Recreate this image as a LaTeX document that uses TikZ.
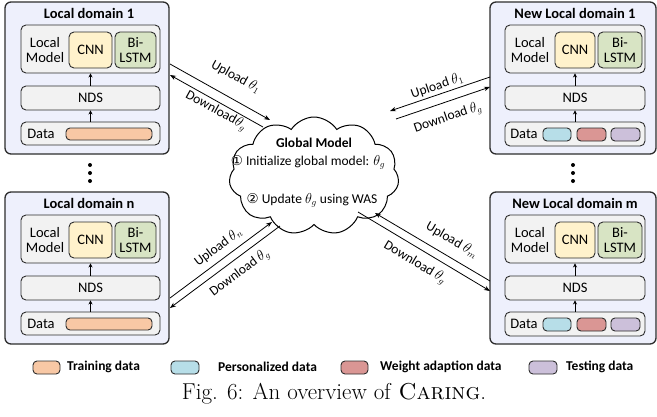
\documentclass[tikz,border=0pt]{standalone}
\usepackage{fontspec}
\newfontfamily\cb{Carlito}
\newfontfamily\dv{DejaVu Sans}
\usetikzlibrary{shapes.symbols,arrows.meta,calc}
\definecolor{domfill}{RGB}{238,240,252}
\definecolor{boxgray}{RGB}{242,242,242}
\definecolor{cnnfill}{RGB}{255,242,204}
\definecolor{lstmfill}{RGB}{216,228,196}
\definecolor{trainfill}{RGB}{248,200,165}
\definecolor{persfill}{RGB}{183,222,232}
\definecolor{weightfill}{RGB}{218,150,148}
\definecolor{testfill}{RGB}{204,192,218}
\definecolor{edge}{RGB}{45,45,45}
\tikzset{
  dom/.style={draw=edge, line width=1.3pt, rounded corners=6pt, fill=domfill, inner sep=0pt},
  inbox/.style={draw=edge, line width=0.9pt, rounded corners=5pt, fill=boxgray, inner sep=0pt,
                font=\cb\fontsize{14.5}{15.5}\selectfont, align=center},
  sw/.style={draw=edge, line width=0.9pt, rounded corners=4pt, inner sep=0pt},
  ttl/.style={font=\cb\bfseries\fontsize{14.5}{16}\selectfont, inner sep=0pt},
  txt/.style={font=\cb\fontsize{14.5}{15.5}\selectfont, align=center, inner sep=0pt},
  lbl/.style={font=\cb\fontsize{13.5}{15}\selectfont, inner sep=0pt},
  leg/.style={font=\cb\bfseries\fontsize{13.5}{15}\selectfont, anchor=west, inner sep=0pt},
  arr/.style={line width=0.8pt, -{Stealth[length=6pt,width=4.5pt]}},
  iarr/.style={line width=0.9pt, -{Stealth[length=4pt,width=4pt]}},
  dotc/.style={fill=black, circle, inner sep=0pt, minimum size=4pt}
}
\begin{document}
\begin{tikzpicture}[x=1pt,y=-1pt]
\useasboundingbox (0,0) rectangle (657,416);

% ---------- left top domain ----------
\node[dom, minimum width=164pt, minimum height=152pt] (d1) at (87,78) {};
\node[ttl] (d1t) at (89,13) {Local domain 1};
\node[inbox, minimum width=139pt, minimum height=48pt] (d1lm) at (90.5,49) {};
\node[txt] (d1lmt) at (45,50) {Local\\Model};
\node[inbox, fill=cnnfill, minimum width=43pt, minimum height=36pt] (d1cnn) at (90.5,50) {CNN};
\node[inbox, fill=lstmfill, minimum width=41pt, minimum height=36pt] (d1ls) at (135.5,50) {Bi-\\LSTM};
\node[inbox, minimum width=139pt, minimum height=24pt] (d1nds) at (90.5,98) {NDS};
\node[inbox, minimum width=139pt, minimum height=23pt] (d1data) at (90.5,133.5) {};
\node[txt] (d1datat) at (41,133.5) {Data};
\node[sw, fill=trainfill, minimum width=86pt, minimum height=12pt] (d1tr) at (109,134) {};
\draw[iarr] (d1nds.north) -- (d1lm.south);
\draw[iarr] (d1data.north) -- (d1nds.south);

% ---------- left bottom domain ----------
\node[dom, minimum width=164pt, minimum height=152pt] (dn) at (87,268) {};
\node[ttl] (dnt) at (89,203) {Local domain n};
\node[inbox, minimum width=139pt, minimum height=48pt] (dnlm) at (90.5,239) {};
\node[txt] (dnlmt) at (45,240) {Local\\Model};
\node[inbox, fill=cnnfill, minimum width=43pt, minimum height=36pt] (dncnn) at (90.5,240) {CNN};
\node[inbox, fill=lstmfill, minimum width=41pt, minimum height=36pt] (dnls) at (135.5,240) {Bi-\\LSTM};
\node[inbox, minimum width=139pt, minimum height=24pt] (dnnds) at (90.5,288) {NDS};
\node[inbox, minimum width=139pt, minimum height=23pt] (dndata) at (90.5,323.5) {};
\node[txt] (dndatat) at (41,323.5) {Data};
\node[sw, fill=trainfill, minimum width=86pt, minimum height=12pt] (dntr) at (109,324) {};
\draw[iarr] (dnnds.north) -- (dnlm.south);
\draw[iarr] (dndata.north) -- (dnnds.south);

% ---------- right top domain ----------
\node[dom, minimum width=166pt, minimum height=152pt] (m1) at (573,78) {};
\node[ttl] (m1t) at (575,13) {New Local domain 1};
\node[inbox, minimum width=140pt, minimum height=48pt] (m1lm) at (575,49) {};
\node[txt] (m1lmt) at (530,50) {Local\\Model};
\node[inbox, fill=cnnfill, minimum width=40pt, minimum height=36pt] (m1cnn) at (575,50) {CNN};
\node[inbox, fill=lstmfill, minimum width=44pt, minimum height=36pt] (m1ls) at (620,50) {Bi-\\LSTM};
\node[inbox, minimum width=140pt, minimum height=24pt] (m1nds) at (575,98) {NDS};
\node[inbox, minimum width=140pt, minimum height=24pt] (m1data) at (575,134) {};
\node[txt] (m1datat) at (524,134) {Data};
\node[sw, fill=persfill, minimum width=28pt, minimum height=13pt] (m1p) at (557,134.5) {};
\node[sw, fill=weightfill, minimum width=29pt, minimum height=13pt] (m1w) at (591.5,134.5) {};
\node[sw, fill=testfill, minimum width=29pt, minimum height=13pt] (m1s) at (625.5,134.5) {};
\draw[iarr] (m1nds.north) -- (m1lm.south);
\draw[iarr] (m1data.north) -- (m1nds.south);

% ---------- right bottom domain ----------
\node[dom, minimum width=166pt, minimum height=152pt] (mm) at (573,268) {};
\node[ttl] (mmt) at (575,203) {New Local domain m};
\node[inbox, minimum width=140pt, minimum height=48pt] (mmlm) at (575,239) {};
\node[txt] (mmlmt) at (530,240) {Local\\Model};
\node[inbox, fill=cnnfill, minimum width=40pt, minimum height=36pt] (mmcnn) at (575,240) {CNN};
\node[inbox, fill=lstmfill, minimum width=44pt, minimum height=36pt] (mmls) at (620,240) {Bi-\\LSTM};
\node[inbox, minimum width=140pt, minimum height=24pt] (mmnds) at (575,288) {NDS};
\node[inbox, minimum width=140pt, minimum height=24pt] (mmdata) at (575,324) {};
\node[txt] (mmdatat) at (524,324) {Data};
\node[sw, fill=persfill, minimum width=28pt, minimum height=13pt] (mmp) at (557,324.5) {};
\node[sw, fill=weightfill, minimum width=29pt, minimum height=13pt] (mmw) at (591.5,324.5) {};
\node[sw, fill=testfill, minimum width=29pt, minimum height=13pt] (mms) at (625.5,324.5) {};
\draw[iarr] (mmnds.north) -- (mmlm.south);
\draw[iarr] (mmdata.north) -- (mmnds.south);

% ---------- vertical dots ----------
\node[dotc] (ld1) at (90,165) {};
\node[dotc] (ld2) at (90,173) {};
\node[dotc] (ld3) at (90,181) {};
\node[dotc] (rd1) at (573,165) {};
\node[dotc] (rd2) at (573,173) {};
\node[dotc] (rd3) at (573,181) {};

% ---------- cloud ----------
\node[cloud, cloud puffs=11, cloud puff arc=115, aspect=1.45, draw=black, line width=1pt, fill=white,
      minimum width=170pt, minimum height=118pt, inner sep=0pt] (cl) at (314,176) {};
\node[font=\cb\bfseries\fontsize{13.5}{15}\selectfont, inner sep=0pt] (clt) at (314,143) {Global Model};
\node[font=\cb\fontsize{13.5}{15}\selectfont, inner sep=0pt] (cl1) at (308,162) {{\dv\char"2460} Initialize global model: $\theta_g$};
\node[font=\cb\fontsize{13.5}{15}\selectfont, inner sep=0pt] (cl2) at (312,200) {{\dv\char"2461} Update $\theta_g$ using WAS};

% ---------- connector end points ----------
\coordinate (u1a) at (170,64);  \coordinate (u1b) at (270,120);
\coordinate (w1a) at (263,127); \coordinate (w1b) at (170,75);
\coordinate (u2a) at (490,77);  \coordinate (u2b) at (390,111);
\coordinate (w2a) at (396,119); \coordinate (w2b) at (490,87);
\coordinate (u3a) at (170,298); \coordinate (u3b) at (272,222);
\coordinate (w3a) at (280,226); \coordinate (w3b) at (170,308);
\coordinate (u4a) at (490,281); \coordinate (u4b) at (375,213);
\coordinate (w4a) at (358,212); \coordinate (w4b) at (490,291);

\draw[arr] (u1a) -- (u1b);
\draw[arr] (w1a) -- (w1b);
\draw[arr] (u2a) -- (u2b);
\draw[arr] (w2a) -- (w2b);
\draw[arr] (u3a) -- (u3b);
\draw[arr] (w3a) -- (w3b);
\draw[arr] (u4a) -- (u4b);
\draw[arr] (w4a) -- (w4b);

% ---------- connector labels ----------
\node[lbl, rotate=-29] (l1u) at (236,77) {Upload $\theta_1$};
\node[lbl, rotate=-29] (l1d) at (216,111) {Download$\theta_g$};
\node[lbl, rotate=19] (l2u) at (437,86) {Upload $\theta_1$};
\node[lbl, rotate=19] (l2d) at (448,118) {Download $\theta_g$};
\node[lbl, rotate=37] (l3u) at (218,247) {Upload $\theta_n$};
\node[lbl, rotate=37] (l3d) at (240,273) {Download $\theta_g$};
\node[lbl, rotate=-30] (l4u) at (452,240) {Upload $\theta_m$};
\node[lbl, rotate=-31] (l4d) at (415,263) {Download $\theta_g$};

% ---------- legend ----------
\node[sw, fill=trainfill, minimum width=27pt, minimum height=13pt] (lg1) at (46.5,367.5) {};
\node[leg] (lg1t) at (67,367) {Training data};
\node[sw, fill=persfill, minimum width=28pt, minimum height=13pt] (lg2) at (185,367.5) {};
\node[leg] (lg2t) at (218,367) {Personalized data};
\node[sw, fill=weightfill, minimum width=27pt, minimum height=13pt] (lg3) at (354.5,367.5) {};
\node[leg] (lg3t) at (380,367) {Weight adaption data};
\node[sw, fill=testfill, minimum width=28pt, minimum height=13pt] (lg4) at (543,367.5) {};
\node[leg] (lg4t) at (566,367) {Testing data};

% ---------- caption ----------
\node[font=\fontsize{23}{26}\selectfont, inner sep=0pt] (cap) at (334,394) {Fig. 6: An overview of \textsc{Caring}.};
\end{tikzpicture}
\end{document}
